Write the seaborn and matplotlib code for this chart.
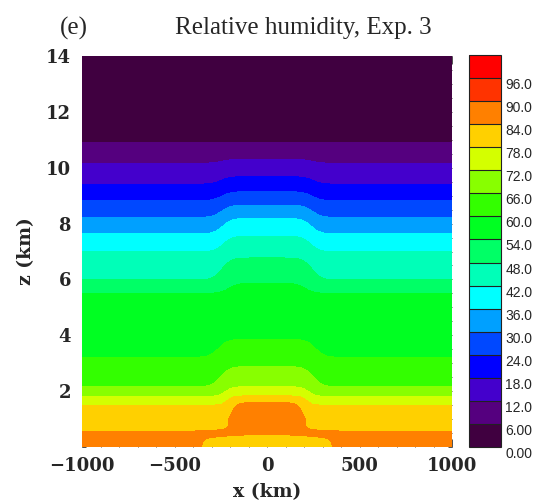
import numpy as np
import matplotlib
matplotlib.use("Agg")
import matplotlib.pyplot as plt
from matplotlib.colors import ListedColormap, BoundaryNorm
from matplotlib.ticker import MultipleLocator, FixedLocator
import seaborn as sns

# Contour levels of relative humidity (%)
levels = [0, 6, 12, 18, 24, 30, 36, 42, 48, 54, 60, 66, 72, 78, 84, 90, 96, 102]
level_labels = ["0.00", "6.00", "12.0", "18.0", "24.0", "30.0", "36.0", "42.0", "48.0",
                "54.0", "60.0", "66.0", "72.0", "78.0", "84.0", "90.0", "96.0"]
band_colors = ["#400040", "#55007f", "#4400cc", "#0000ff", "#0048ff", "#00a0ff",
               "#00ffff", "#00ffb8", "#00ff66", "#00ff22", "#33ff00", "#88ff00",
               "#d4ff00", "#ffd000", "#ff8000", "#ff3300", "#ff0000"]

# Environmental profile (far from the centre): height (km) of each RH value
env_z = [0.0, 0.55, 1.50, 1.80, 2.16, 3.21, 5.50, 5.98, 6.99, 7.63, 8.22, 8.82, 9.41, 10.16, 10.90, 14.0]
env_rh = [88, 84, 78, 72, 66, 60, 54, 48, 42, 36, 30, 24, 18, 12, 6, 2]

# Central profile (x = 0)
ctr_z = [0.0, 0.43, 1.0, 1.59, 1.83, 2.16, 2.88, 3.86, 5.87, 6.77, 7.55, 8.19, 8.66, 9.14, 9.68, 10.30, 10.90, 14.0]
ctr_rh = [81, 84, 87, 84, 78, 72, 66, 60, 54, 48, 42, 36, 30, 24, 18, 12, 6, 2]

# Width of the moist column (half-width, edge sharpness in km) near the
# surface, in the boundary-layer core and in the free troposphere
sfc_shape = (370.0, 110.0)
pbl_shape = (205.0, 34.0)
free_shape = (240.0, 50.0)
# heights (km) over which the column shape changes from one to the next
shape_z = [0.0, 0.3, 0.75, 1.5, 2.3, 14.0]

x = np.linspace(-1000, 1000, 801)
z = np.linspace(0, 14, 561)
X, Z = np.meshgrid(x, z)


def plateau(xv, shape):
    half, edge = shape
    return 0.5 * (np.tanh((xv + half) / edge) - np.tanh((xv - half) / edge))


w_sfc = plateau(x, sfc_shape)[None, :]
w_pbl = plateau(x, pbl_shape)[None, :]
w_free = plateau(x, free_shape)[None, :]
a_sfc = np.interp(z, shape_z, [1, 1, 0, 0, 0, 0])[:, None]
a_pbl = np.interp(z, shape_z, [0, 0, 1, 1, 0, 0])[:, None]
a_free = np.interp(z, shape_z, [0, 0, 0, 0, 1, 1])[:, None]
w = a_sfc * w_sfc + a_pbl * w_pbl + a_free * w_free

rh_env = np.interp(z, env_z, env_rh)[:, None]
rh_ctr = np.interp(z, ctr_z, ctr_rh)[:, None]
RH = rh_env + w * (rh_ctr - rh_env)

sns.set_theme(style="ticks")
plt.rcParams["font.family"] = ["DejaVu Serif"]

cmap = ListedColormap(sns.color_palette(band_colors))
norm = BoundaryNorm(levels, cmap.N)

fig = plt.figure(figsize=(5.44, 5.04), dpi=100)
ax = fig.add_axes([82 / 544, 1 - 447 / 504, 370 / 544, 391 / 504])
cax = fig.add_axes([469 / 544, 1 - 447 / 504, 32 / 544, 392 / 504])

cf = ax.contourf(X, Z, RH, levels=levels, cmap=cmap, norm=norm)
ax.set_xlim(-1000, 1000)
ax.set_ylim(0, 14)

ax.xaxis.set_major_locator(FixedLocator([-1000, -500, 0, 500, 1000]))
ax.xaxis.set_minor_locator(MultipleLocator(100))
ax.yaxis.set_major_locator(FixedLocator([2, 4, 6, 8, 10, 12, 14]))
ax.yaxis.set_minor_locator(MultipleLocator(0.5))
ax.tick_params(which="both", direction="in", top=True, right=True, color="#333333", width=0.6)
ax.tick_params(which="major", length=6, labelsize=13)
ax.tick_params(which="minor", length=3)
ax.tick_params(axis="x", pad=7)
ax.tick_params(axis="y", pad=8)
ax.set_xticklabels(["\u22121000", "\u2212500", "0", "500", "1000"], fontweight="bold")
ax.set_yticklabels(["2", "4", "6", "8", "10", "12", "14"], fontweight="bold")
for sp in ax.spines.values():
    sp.set_visible(False)

ax.set_xlabel("x (km)", fontsize=13.5, fontweight="bold", labelpad=6)
ax.set_ylabel("z (km)", fontsize=13.5, fontweight="bold", labelpad=8)

fig.text(60 / 544, 1 - 28 / 504, "(e)", fontsize=18, family="Liberation Serif",
         ha="left", va="center")
fig.text(303 / 544, 1 - 28 / 504, "Relative humidity, Exp. 3", fontsize=18,
         family="Liberation Serif", ha="center", va="center")

# Colour bar with labels at the lower edge of each band
cb = fig.colorbar(cf, cax=cax, drawedges=True)
cb.outline.set_edgecolor("#222222")
cb.outline.set_linewidth(0.8)
cb.dividers.set_color("#222222")
cb.dividers.set_linewidth(0.8)
cb.set_ticks(levels[:-1])
cb.set_ticklabels(level_labels)
cax.minorticks_off()
cax.tick_params(length=0, pad=3, labelsize=10)
for lab in cax.get_yticklabels():
    lab.set_family("Liberation Sans")
    lab.set_verticalalignment("top")

fig.savefig("out.png", dpi=100)
